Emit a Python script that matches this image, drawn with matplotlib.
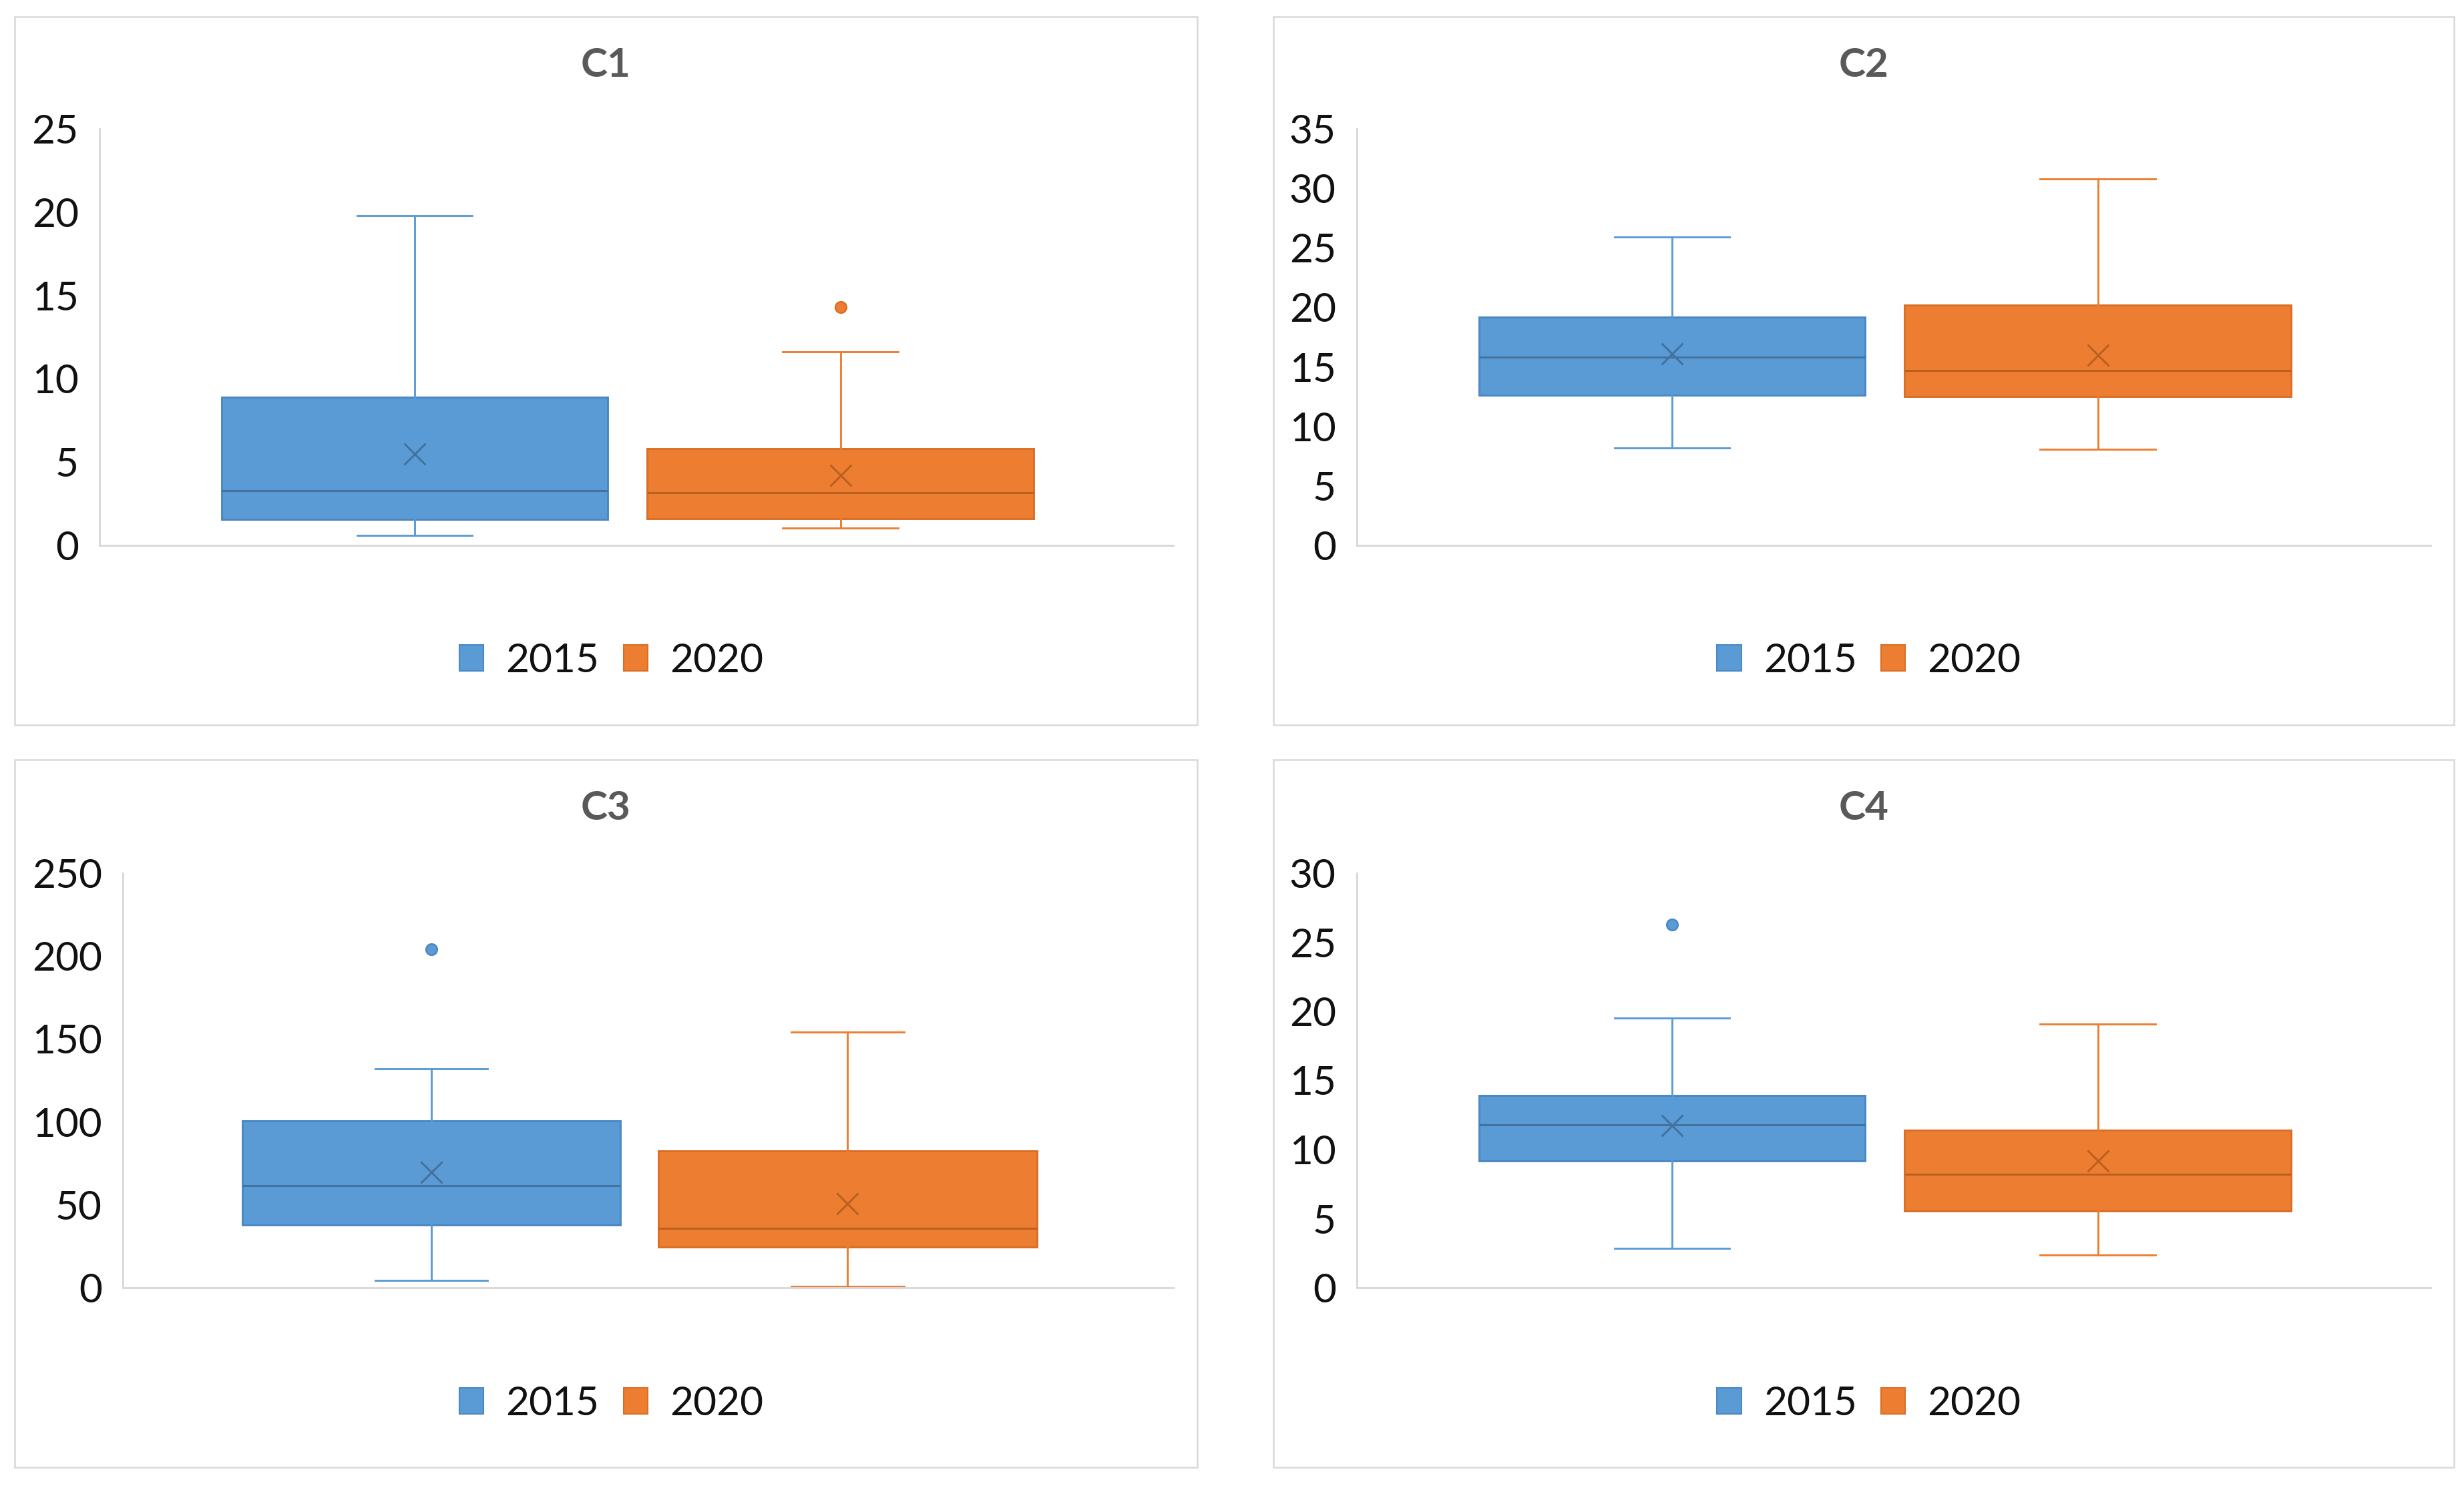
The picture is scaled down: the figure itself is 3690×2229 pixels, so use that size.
import matplotlib
matplotlib.use("Agg")
from matplotlib import pyplot as plt
from matplotlib.patches import Patch, Rectangle

plt.rcParams['font.family'] = ['Lato', 'DejaVu Sans']

# ---- data (box & whisker summaries) ----
panel_names = ['C1', 'C2', 'C3', 'C4']
series_names = ['2015', '2020']

# per panel: [2015, 2020]
whis_hi = [[19.8, 11.6], [25.9, 30.8], [132.0, 154.0], [19.5, 19.1]]
q3_vals = [[8.9, 5.8], [19.2, 20.2], [100.5, 82.5], [13.9, 11.4]]
medians = [[3.3, 3.15], [15.8, 14.7], [61.5, 36.0], [11.8, 8.2]]
q1_vals = [[1.55, 1.6], [12.6, 12.5], [38.0, 24.5], [9.2, 5.55]]
whis_lo = [[0.6, 1.05], [8.2, 8.1], [4.6, 0.9], [2.85, 2.35]]
means = [[5.5, 4.2], [16.1, 16.0], [69.5, 50.7], [11.75, 9.2]]
outliers = [[[], [14.3]], [[], []], [[204.0], []], [[26.3], []]]

y_max = [25, 35, 250, 30]
y_step = [5, 5, 50, 5]

# ---- layout (pixels of the 3690x2229 canvas) ----
W, H = 3690, 2229
frames = [(22, 25, 1793, 1086), (1907, 25, 3675, 1086),
          (22, 1138, 1793, 2198), (1907, 1138, 3675, 2198)]
axes_px = [(149, 193, 1757, 817), (2032, 193, 3640, 817),
           (184, 1308, 1757, 1929), (2032, 1308, 3640, 1929)]
title_base = [115, 115, 1228, 1228]
legend_y = [990, 990, 2103, 2103]

fill = ['#5B9BD5', '#ED7D31']
edge = ['#4A88C4', '#D96F27']
dark = ['#41719C', '#B8601F']
positions = [0.2935, 0.69]
box_w = 0.36
fs = 14.5

fig = plt.figure(figsize=(W / 300, H / 300), dpi=300)

for p in range(4):
    fl, ft, fr, fb = frames[p]
    fig.patches.append(Rectangle((fl / W, 1 - fb / H), (fr - fl) / W, (fb - ft) / H,
                                 transform=fig.transFigure, fill=False,
                                 edgecolor='#D9D9D9', linewidth=0.6))
    al, at, ar, ab = axes_px[p]
    ax = fig.add_axes([al / W, 1 - ab / H, (ar - al) / W, (ab - at) / H])

    for s in range(2):
        stats = [{
            'med': medians[p][s], 'q1': q1_vals[p][s], 'q3': q3_vals[p][s],
            'whislo': whis_lo[p][s], 'whishi': whis_hi[p][s],
            'mean': means[p][s], 'fliers': outliers[p][s], 'label': series_names[s],
        }]
        ax.bxp(stats, positions=[positions[s]], widths=box_w, capwidths=0.107,
               patch_artist=True, showmeans=True, manage_ticks=False,
               boxprops=dict(facecolor=fill[s], edgecolor=edge[s], linewidth=0.7),
               medianprops=dict(color=dark[s], linewidth=0.7),
               whiskerprops=dict(color=fill[s], linewidth=0.7),
               capprops=dict(color=fill[s], linewidth=0.7),
               meanprops=dict(marker='x', markeredgecolor=dark[s], markersize=7.5,
                              markeredgewidth=0.7),
               flierprops=dict(marker='o', markerfacecolor=fill[s], markeredgecolor=edge[s],
                               markersize=4, markeredgewidth=0.6))

    ax.set_xlim(0, 1)
    ax.set_ylim(0, y_max[p])
    ax.set_yticks(range(0, y_max[p] + 1, y_step[p]))
    ax.set_xticks([])
    ax.tick_params(axis='y', length=0, pad=7.5, labelsize=fs, labelcolor='#111111')
    for side in ['top', 'right']:
        ax.spines[side].set_visible(False)
    for side in ['left', 'bottom']:
        ax.spines[side].set_color('#D9D9D9')
        ax.spines[side].set_linewidth(0.7)

    cx = (fl + fr) / 2 / W
    fig.text(cx, 1 - title_base[p] / H, panel_names[p], ha='center', va='baseline',
             fontsize=fs, fontweight='bold', color='#595959')

    handles = [Patch(facecolor=fill[s], edgecolor=edge[s], linewidth=0.5) for s in range(2)]
    fig.legend(handles, series_names, loc='center', bbox_to_anchor=(cx + 8 / W, 1 - legend_y[p] / H),
               ncol=2, frameon=False, fontsize=fs, handlelength=0.6, handleheight=0.62,
               handletextpad=0.55, columnspacing=0.6, labelcolor='#111111')

fig.savefig('out.png', dpi=300)
